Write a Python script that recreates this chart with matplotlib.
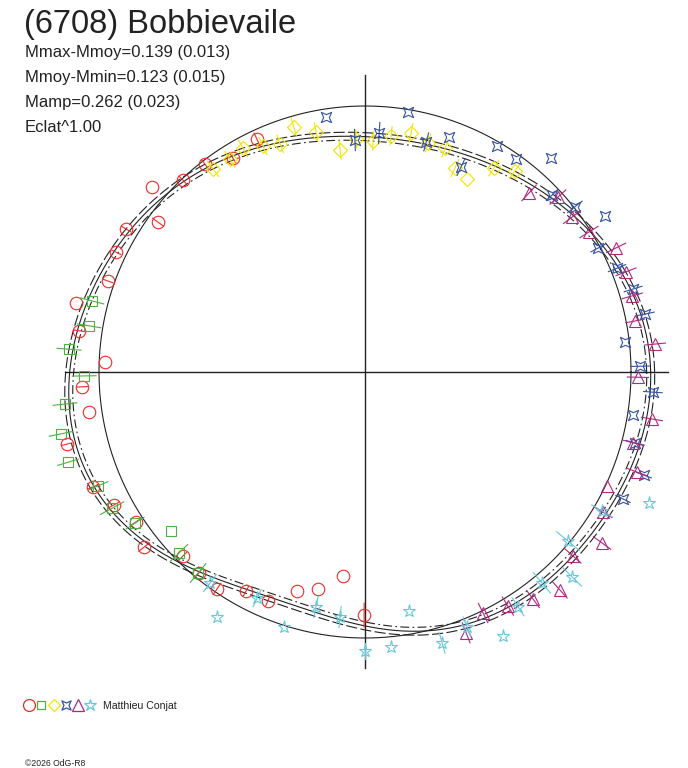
import numpy as np
import matplotlib.pyplot as plt
from matplotlib.path import Path

plt.rcParams['font.family'] = ['Liberation Sans', 'DejaVu Sans']

title = "(6708) Bobbievaile"
stats = ["Mmax-Mmoy=0.139 (0.013)",
         "Mmoy-Mmin=0.123 (0.015)",
         "Mamp=0.262 (0.023)",
         "Eclat^1.00"]
observer = "Matthieu Conjat"
credit = "\u00a92026 OdG-R8"

# fitted light curve, radius (unit = reference circle) every 15 deg of phase angle
fit_angle = np.arange(0, 360, 15)
fit_radius = [1.064, 1.060, 1.011, 0.940, 0.910, 0.895, 0.883, 0.906,
              0.940, 1.004, 1.034, 1.071, 1.105, 1.128, 1.083, 1.000,
              0.929, 0.925, 0.962, 0.992, 1.034, 1.053, 1.045, 1.071]
fit_sigma = 0.015

# sessions : phase angle (deg), radius, radial error
red_ang = [114.9, 121.7, 127.6, 133.5, 139.0, 144.1, 149.1, 154.3, 160.5, 166.6,
           171.8, 177.8, 183.0, 188.2, 193.6, 202.9, 207.9, 213.2, 218.4, 225.3,
           230.4, 235.7, 241.5, 247.0, 252.8, 257.8, 263.8, 269.8]
red_r = [0.965, 0.945, 0.987, 0.995, 1.061, 0.961, 1.047, 1.039, 1.025, 1.117,
         1.086, 0.978, 1.065, 1.048, 1.153, 1.110, 1.068, 1.029, 1.060, 0.973,
         0.980, 0.987, 0.937, 0.935, 0.862, 0.835, 0.771, 0.914]
red_err = [0.025, 0.02, 0.02, 0.02, 0, 0.025, 0.02, 0.02, 0.02, 0,
           0.02, 0, 0.02, 0, 0.02, 0.02, 0.02, 0.025, 0.025, 0.02,
           0.02, 0.025, 0.02, 0.02, 0, 0, 0, 0.045]

green_ang = [165.4, 170.5, 175.6, 180.8, 186.1, 191.5, 196.9, 203.1, 208.3, 213.3,
             219.3, 224.2, 230.3]
green_r = [1.060, 1.052, 1.116, 1.056, 1.134, 1.166, 1.167, 1.091, 1.080, 1.034,
           0.943, 0.976, 0.982]
green_err = [0.045, 0.045, 0.045, 0.045, 0.045, 0.045, 0.04, 0.04, 0.05, 0.04,
             0, 0.045, 0.045]

yellow_ang = [126.8, 122.4, 118.6, 114.3, 110.4, 106.2, 101.5, 96.4, 92.2, 88.0,
              83.7, 79.1, 74.6, 70.3, 66.2, 62.1, 57.7, 53.3]
yellow_r = [0.953, 0.948, 0.959, 0.932, 0.915, 0.959, 0.921, 0.840, 0.877, 0.869,
            0.893, 0.915, 0.893, 0.894, 0.838, 0.821, 0.907, 0.943]
yellow_err = [0.035, 0.035, 0.035, 0.035, 0.035, 0.035, 0.035, 0.035, 0.035, 0.035,
              0.035, 0.035, 0.035, 0.035, 0.035, 0, 0.035, 0.035]

blue_ang = [98.7, 80.6, 92.5, 86.6, 75.1, 70.3, 64.9, 59.7, 54.7, 49.0,
            43.4, 38.2, 33.0, 28.0, 22.4, 17.2, 11.7, 6.6, 1.2, 356.0,
            350.9, 345.3, 339.7, 333.8]
blue_r = [0.970, 0.991, 0.873, 0.900, 0.895, 0.938, 0.851, 0.984, 0.982, 1.066,
          0.968, 1.004, 1.076, 0.992, 1.025, 1.055, 1.075, 0.984, 1.034, 1.085,
          1.020, 1.050, 1.118, 1.081]
blue_err = [0, 0, 0.04, 0.04, 0.035, 0, 0.035, 0, 0, 0,
            0.03, 0.035, 0, 0.03, 0.035, 0.035, 0.035, 0, 0.035, 0.035,
            0, 0.035, 0.03, 0.03]

magenta_ang = [47.5, 42.2, 36.8, 32.0, 26.3, 21.0, 15.9, 10.7, 5.5, 358.9,
               350.7, 345.2, 339.8, 334.8, 329.5, 324.2, 318.5, 311.8, 306.5, 301.4,
               296.1, 291.2]
magenta_r = [0.913, 0.979, 0.972, 0.993, 1.053, 1.051, 1.044, 1.033, 1.095, 1.026,
             1.093, 1.042, 1.089, 1.006, 1.038, 1.099, 1.044, 1.100, 1.062, 1.031,
             1.009, 1.052]
magenta_err = [0.04, 0.04, 0.04, 0.04, 0.04, 0.04, 0.04, 0.035, 0.04, 0.04,
               0.04, 0.04, 0.04, 0, 0.04, 0.04, 0.04, 0.04, 0.04, 0.04,
               0.04, 0.04]

cyan_ang = [335.2, 329.6, 320.2, 315.3, 310.0, 303.1, 291.8, 297.6, 285.9, 275.4,
            270.0, 280.4, 264.2, 258.2, 252.4, 244.5, 238.9, 233.7]
cyan_r = [1.176, 1.033, 0.993, 1.095, 1.035, 1.054, 1.032, 1.120, 1.059, 1.038,
          1.049, 0.914, 0.926, 0.903, 1.006, 0.942, 1.076, 0.984]
cyan_err = [0, 0.045, 0.055, 0.05, 0.05, 0.04, 0.04, 0, 0.04, 0,
            0.03, 0, 0.04, 0.04, 0, 0.035, 0, 0.04]

# concave four point marker
star4 = Path([(1, 1), (0, 0.55), (-1, 1), (-0.55, 0), (-1, -1), (0, -0.55),
              (1, -1), (0.55, 0), (1, 1)],
             [Path.MOVETO] + [Path.LINETO] * 7 + [Path.CLOSEPOLY])

sessions = [
    (red_ang, red_r, red_err, '#ee2a2a', 'o', 9.0),
    (green_ang, green_r, green_err, '#4cb044', 's', 7.2),
    (yellow_ang, yellow_r, yellow_err, '#f2e400', 'D', 7.2),
    (blue_ang, blue_r, blue_err, '#3552a4', star4, 7.4),
    (magenta_ang, magenta_r, magenta_err, '#b0287c', '^', 8.4),
    (cyan_ang, cyan_r, cyan_err, '#64c8da', '*', 9.6),
]
legend_ms = [8.6, 6.4, 5.8, 6.6, 8.0, 9.0]


def smooth_closed(ang_deg, rad, order=5, n=721):
    a = np.radians(ang_deg)
    t = np.linspace(0, 2 * np.pi, n)

    def basis(x):
        cols = [np.ones_like(x)]
        for k in range(1, order + 1):
            cols += [np.cos(k * x), np.sin(k * x)]
        return np.column_stack(cols)

    coef, *_ = np.linalg.lstsq(basis(a), np.asarray(rad), rcond=None)
    return t, basis(t) @ coef


fig = plt.figure(figsize=(6.88, 7.68), dpi=100)
ax = fig.add_axes([0, 0, 1, 1])
R = 266.0
ax.set_xlim(-365 / R, 323 / R)
ax.set_ylim(-396 / R, 372 / R)
ax.axis('off')

# reference circle
t = np.linspace(0, 2 * np.pi, 721)
ax.plot(np.cos(t), np.sin(t), color='#222222', lw=0.8)

# fitted curve with its envelope
t, rf = smooth_closed(fit_angle, fit_radius)
ax.plot(rf * np.cos(t), rf * np.sin(t), color='#222222', lw=0.8)
ro = rf + fit_sigma
ri = rf - fit_sigma
ax.plot(ro * np.cos(t), ro * np.sin(t), color='#222222', lw=0.8,
        linestyle=(0, (10, 3)))
ax.plot(ri * np.cos(t), ri * np.sin(t), color='#222222', lw=0.8,
        linestyle=(0, (8, 3, 1.5, 3)))

# axes through the centre
ax.plot([-1.128, 1.139], [0, 0], color='#222222', lw=1.0)
ax.plot([0, 0], [-1.113, 1.117], color='#222222', lw=1.0)

for ang, r, err, col, mk, ms in sessions:
    a = np.radians(ang)
    r = np.asarray(r)
    e = np.asarray(err)
    for ai, ri_, ei in zip(a, r, e):
        if ei > 0:
            ax.plot([(ri_ - ei) * np.cos(ai), (ri_ + ei) * np.cos(ai)],
                    [(ri_ - ei) * np.sin(ai), (ri_ + ei) * np.sin(ai)],
                    color=col, lw=0.8)
    ax.plot(r * np.cos(a), r * np.sin(a), linestyle='none', marker=mk,
            ms=ms, mfc='none', mec=col, mew=0.8)

# texts
W, H = 688.0, 768.0
fig.text(24 / W, 1 - 32.5 / H, title, fontsize=23.5, color='#222222', va='baseline')
for i, s in enumerate(stats):
    fig.text(25 / W, 1 - (56.7 + 25 * i) / H, s, fontsize=12, color='#222222',
             va='baseline')

# legend
leg_x = [28.7, 40.7, 53.7, 66.3, 78.0, 89.7]
for (ang, r, err, col, mk, ms), lx, lms in zip(sessions, leg_x, legend_ms):
    ax.plot([lx / W], [1 - 705 / H], transform=fig.transFigure, marker=mk,
            ms=lms, mfc='none', mec=col, mew=0.9, linestyle='none',
            clip_on=False)
fig.text(102.7 / W, 1 - 708.7 / H, observer, fontsize=7.6, color='#222222',
         va='baseline')
fig.text(25 / W, 1 - 765.5 / H, credit, fontsize=6.2, color='#222222',
         va='baseline')

fig.savefig('out.png', dpi=100)
